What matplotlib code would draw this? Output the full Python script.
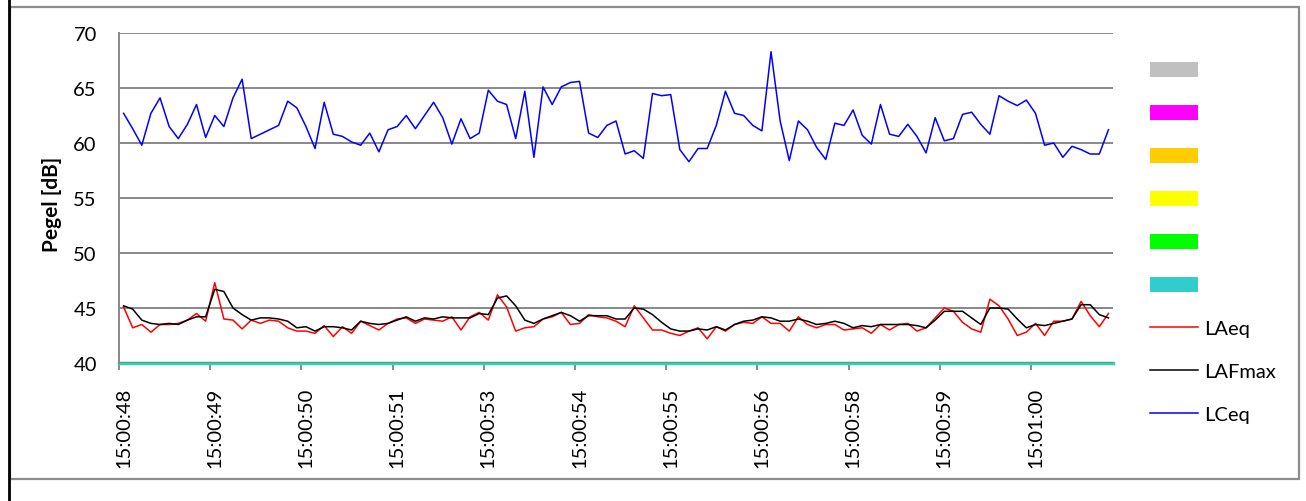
import matplotlib
matplotlib.use("Agg")
import matplotlib.pyplot as plt
from matplotlib.patches import Patch, Rectangle
from matplotlib.lines import Line2D
import numpy as np

plt.rcParams['font.family'] = ['Lato', 'DejaVu Sans']

# sample values (dB), one per measurement interval
laeq = [45.1, 43.2, 43.5, 42.8, 43.5, 43.5, 43.6, 43.9, 44.5, 43.8,
        47.3, 44.0, 43.9, 43.1, 43.9, 43.6, 43.9, 43.8, 43.2, 42.9,
        42.9, 42.7, 43.4, 42.4, 43.3, 42.7, 43.8, 43.4, 43.0, 43.6,
        44.0, 44.1, 43.6, 44.0, 43.9, 43.8, 44.2, 43.0, 44.2, 44.6,
        43.9, 46.2, 45.1, 42.9, 43.2, 43.3, 44.0, 44.2, 44.6, 43.5,
        43.6, 44.4, 44.2, 44.1, 43.8, 43.3, 45.2, 44.1, 43.0, 43.0,
        42.7, 42.5, 42.9, 43.2, 42.2, 43.3, 42.9, 43.5, 43.7, 43.6,
        44.2, 43.6, 43.6, 42.9, 44.2, 43.5, 43.2, 43.5, 43.5, 43.0,
        43.1, 43.2, 42.7, 43.5, 43.0, 43.5, 43.6, 42.9, 43.2, 44.1,
        45.0, 44.7, 43.7, 43.1, 42.8, 45.8, 45.2, 44.0, 42.5, 42.8,
        43.6, 42.5, 43.8, 43.8, 44.0, 45.6, 44.3, 43.3, 44.5]
lafmax = [45.2, 44.9, 43.9, 43.6, 43.5, 43.6, 43.5, 43.9, 44.2, 44.2,
          46.7, 46.5, 45.0, 44.4, 43.9, 44.1, 44.1, 44.0, 43.8, 43.2,
          43.3, 42.9, 43.3, 43.3, 43.2, 43.0, 43.8, 43.6, 43.5, 43.6,
          43.9, 44.2, 43.8, 44.1, 44.0, 44.2, 44.1, 44.1, 44.1, 44.5,
          44.4, 45.9, 46.1, 45.2, 43.9, 43.6, 44.0, 44.3, 44.6, 44.3,
          43.8, 44.3, 44.3, 44.3, 44.0, 44.0, 45.0, 44.9, 44.4, 43.7,
          43.1, 42.9, 42.9, 43.1, 43.0, 43.3, 43.0, 43.5, 43.8, 43.9,
          44.2, 44.1, 43.8, 43.8, 44.0, 43.8, 43.5, 43.6, 43.8, 43.6,
          43.2, 43.4, 43.3, 43.5, 43.5, 43.5, 43.5, 43.4, 43.2, 43.9,
          44.7, 44.7, 44.7, 44.1, 43.5, 45.0, 45.0, 44.9, 44.0, 43.2,
          43.5, 43.4, 43.6, 43.8, 44.0, 45.3, 45.3, 44.4, 44.1]
lceq = [62.7, 61.3, 59.8, 62.7, 64.1, 61.5, 60.4, 61.7, 63.5, 60.5,
        62.5, 61.5, 64.1, 65.8, 60.4, 60.8, 61.2, 61.6, 63.8, 63.2,
        61.5, 59.5, 63.7, 60.8, 60.6, 60.1, 59.8, 60.9, 59.2, 61.2,
        61.5, 62.5, 61.3, 62.5, 63.7, 62.3, 59.9, 62.2, 60.4, 60.9,
        64.8, 63.8, 63.5, 60.4, 64.7, 58.7, 65.1, 63.5, 65.1, 65.5,
        65.6, 60.9, 60.5, 61.6, 62.0, 59.0, 59.3, 58.6, 64.5, 64.3,
        64.4, 59.4, 58.3, 59.5, 59.5, 61.6, 64.7, 62.7, 62.5, 61.6,
        61.1, 68.3, 62.0, 58.4, 62.0, 61.2, 59.6, 58.5, 61.8, 61.6,
        63.0, 60.7, 59.9, 63.5, 60.8, 60.6, 61.7, 60.6, 59.1, 62.3,
        60.2, 60.4, 62.6, 62.8, 61.7, 60.8, 64.3, 63.8, 63.4, 63.9,
        62.7, 59.8, 60.0, 58.7, 59.7, 59.4, 59.0, 59.0, 61.2]
time_labels = ['15:00:48', '15:00:49', '15:00:50', '15:00:51', '15:00:53',
               '15:00:54', '15:00:55', '15:00:56', '15:00:58', '15:00:59',
               '15:01:00']
hidden_colors = ['#C0C0C0', '#FF00FF', '#FFCC00', '#FFFF00', '#00FF00', '#33CCCC']

W, H = 1306, 502
fig = plt.figure(figsize=(W / 100, H / 100), dpi=100)
ax = fig.add_axes([119 / W, 1 - 364 / H, (1113 - 119) / W, (364 - 34) / H])

n = len(lceq)
x = np.arange(n)
ax.plot(x, laeq, color='#FF0000', lw=1.1, label='LAeq')
ax.plot(x, lafmax, color='black', lw=1.1, label='LAFmax')
ax.plot(x, lceq, color='#0000FF', lw=1.1, label='LCeq')

# empty series sitting on the floor of the chart
ax.axhline(40, color='#33CCCC', lw=2.5, clip_on=False, zorder=1)
ax.axhline(40.12, color='#4CAF50', lw=0.8, zorder=1)

ax.set_xlim(-0.5, n - 0.5)
ax.set_ylim(40, 70)
ax.set_yticks(np.arange(40, 71, 5))
ax.yaxis.grid(True, color='#888888', lw=1.4)
ax.set_axisbelow(True)
ax.tick_params(axis='y', length=0, pad=16, labelsize=14.5, labelcolor='black')

ax.set_xticks(np.arange(0, n, 10))
ax.set_xticklabels(time_labels, rotation=90)
ax.set_xticks(np.arange(-0.5, n, 10), minor=True)
ax.tick_params(axis='x', which='major', length=0, pad=17, labelsize=14.5)
ax.tick_params(axis='x', which='minor', length=5, width=1.4, color='#888888')

for s in ['top', 'right', 'bottom']:
    ax.spines[s].set_visible(False)
ax.spines['left'].set_color('#888888')
ax.spines['left'].set_linewidth(1.4)

fig.text(52 / W, 1 - 204 / H, 'Pegel [dB]', rotation=90, ha='center', va='center',
         fontsize=15, fontweight='bold')

handles = [Patch(facecolor=c, edgecolor='none') for c in hidden_colors]
handles += ax.get_lines()[:3]
labels = [''] * len(hidden_colors) + ['LAeq', 'LAFmax', 'LCeq']
fig.legend(handles, labels, loc='upper left', bbox_to_anchor=(1150 / W, 1 - 63 / H),
           frameon=False, fontsize=14.5, borderpad=0, borderaxespad=0,
           handlelength=2.4, handleheight=0.75, handletextpad=0.3, labelspacing=1.27)

# chart border
fig.add_artist(Rectangle((10 / W, 1 - 480 / H), (1299 - 10) / W, (480 - 8) / H,
                         transform=fig.transFigure, fill=False, edgecolor='#8C8C8C', lw=1.6))
fig.add_artist(Line2D([9 / W, 9 / W], [0, 1], transform=fig.transFigure, color='black', lw=2))

fig.savefig('out.png', dpi=100)
